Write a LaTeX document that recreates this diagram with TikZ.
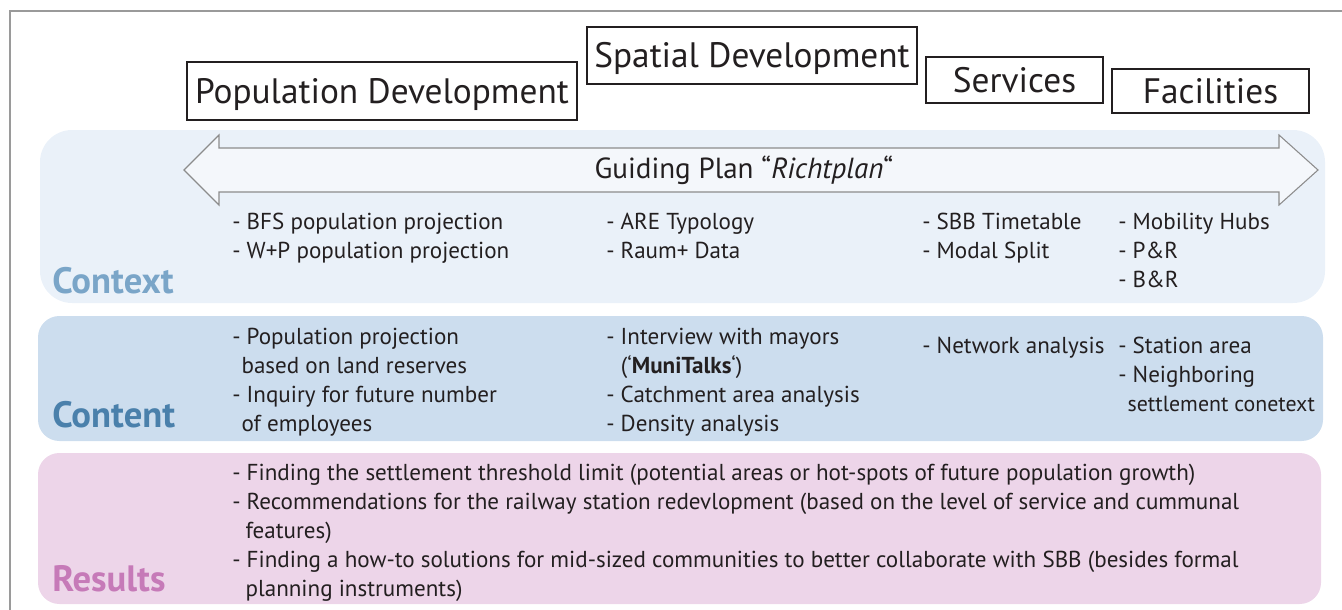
\documentclass[tikz,border=0pt]{standalone}
\usepackage{fontspec}
\setmainfont{PT Sans}
\definecolor{txt}{HTML}{231F20}
\definecolor{framegray}{HTML}{9A9A9A}
\definecolor{ctxfill}{HTML}{EAF1F9}
\definecolor{arrfill}{HTML}{F4F7FB}
\definecolor{arrline}{HTML}{8C8C8C}
\definecolor{cntfill}{HTML}{CCDDEE}
\definecolor{resfill}{HTML}{EDD5E9}
\definecolor{ctxlab}{HTML}{7AA5C8}
\definecolor{cntlab}{HTML}{4A80AB}
\definecolor{reslab}{HTML}{C67AB8}
\tikzset{
  hdr/.style={draw=txt, line width=0.9pt, fill=white, text=txt, inner sep=0pt, text height=21pt, text depth=2.5pt, font=\fontsize{26.5}{30}\selectfont},
  items/.style={anchor=base west, align=left, inner sep=0pt, text=txt, font=\fontsize{17.3}{21.75}\selectfont},
  bandlab/.style={anchor=base west, inner sep=0pt, font=\fontsize{27.5}{30}\selectfont\bfseries},
}
\begin{document}
\begin{tikzpicture}[x=0.75pt,y=-0.75pt]
\useasboundingbox (0,0) rectangle (1342,610);
\draw[framegray, line width=0.9pt] (10,610) -- (10,11) -- (1342,11);
% bands
\fill[ctxfill, rounded corners=24pt] (40,130) rectangle (1325,303);
\fill[cntfill, rounded corners=16pt] (38,316) rectangle (1323,441);
\fill[resfill, rounded corners=16pt] (38,453) rectangle (1321,604);
% headers
\node[hdr, minimum width=292.5pt, minimum height=43.5pt] (pop) at (382,91) {Population Development};
\node[hdr, minimum width=247.5pt, minimum height=42.75pt] (spa) at (752,55.5) {Spatial Development};
\node[hdr, minimum width=132.75pt, minimum height=34.5pt] (ser) at (1014.5,80) {Services};
\node[hdr, minimum width=147.75pt, minimum height=33pt] (fac) at (1210.5,91) {Facilities};
% double arrow
\draw[arrline, fill=arrfill, line width=0.8pt, line join=miter]
  (184,170) -- (219,135) -- (219,148) -- (1279,148) -- (1279,135) -- (1318,170)
  -- (1279,205) -- (1279,192) -- (219,192) -- (219,205) -- cycle;
\node[inner sep=0pt, text=txt, font=\fontsize{21.8}{24}\selectfont] (guide) at (744,170) {Guiding Plan “\textit{Richtplan}“};
% context
\node[items] (c1) at (232,258) {- BFS population projection\\- W+P population projection};
\node[items] (c2) at (606,258) {- ARE Typology\\- Raum+ Data};
\node[items] (c3) at (922,258) {- SBB Timetable\\- Modal Split};
\node[items] (c4) at (1118,287) {- Mobility Hubs\\- P\&R\\- B\&R};
\node[bandlab, text=ctxlab] (ctxl) at (52,293) {Context};
% content
\node[items] (n1) at (232,431) {- Population projection\\\hspace*{7pt}based on land reserves\\- Inquiry for future number\\\hspace*{7pt}of employees};
\node[items] (n2) at (606,431) {- Interview with mayors\\\hspace*{11pt}(‘\textbf{MuniTalks}‘)\\- Catchment area analysis\\- Density analysis};
\node[items] (n3) at (922,353) {- Network analysis};
\node[items] (n4) at (1118,411) {- Station area\\- Neighboring\\\hspace*{7pt}{\fontsize{16.4}{21.75}\selectfont settlement conetext}};
\node[bandlab, text=cntlab] (cntl) at (52,427) {Content};
% results
\node[items] (r1) at (232,596) {- Finding the settlement threshold limit (potential areas or hot-spots of future population growth)\\- Recommendations for the railway station redevlopment (based on the level of service and cummunal\\\hspace*{10pt}features)\\- Finding a how-to solutions for mid-sized communities to better collaborate with SBB (besides formal\\\hspace*{10pt}planning instruments)};
\node[bandlab, text=reslab] (resl) at (52,591) {Results};
\end{tikzpicture}
\end{document}
